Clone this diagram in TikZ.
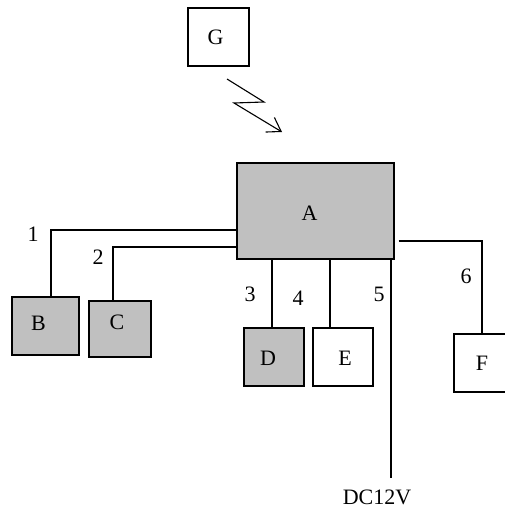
\documentclass[tikz,border=0pt]{standalone}
\usepackage{fontspec}
\setmainfont{Liberation Serif}
\usetikzlibrary{arrows.meta}
\definecolor{boxgray}{HTML}{C0C0C0}
\begin{document}
\begin{tikzpicture}[x=1pt,y=-1pt,line width=1.1pt,
  font=\fontsize{22}{26}\selectfont,
  box/.style={draw,rectangle,inner sep=0pt},
  gbox/.style={box,fill=boxgray},
  num/.style={inner sep=0pt}]
\useasboundingbox[fill=white] (0,0) rectangle (505,508);
% boxes
\node[box,minimum width=61pt,minimum height=58pt,label={[xshift=-3pt]center:G}] (G) at (218.5,37) {};
\node[gbox,minimum width=157pt,minimum height=96pt,label={[xshift=-6pt,yshift=-2pt]center:A}] (A) at (315.5,211) {};
\node[gbox,minimum width=67pt,minimum height=58pt,label={[xshift=-7pt,yshift=3pt]center:B}] (B) at (45.5,326) {};
\node[gbox,minimum width=62pt,minimum height=56pt,label={[xshift=-3pt,yshift=7pt]center:C}] (C) at (120,329) {};
\node[gbox,minimum width=60pt,minimum height=58pt,label={[xshift=-6pt,yshift=-1pt]center:D}] (D) at (274,357) {};
\node[box,minimum width=60pt,minimum height=58pt,label={[xshift=2pt,yshift=-1pt]center:E}] (E) at (343,357) {};
\node[box,minimum width=60pt,minimum height=58pt,label={[xshift=-2pt,yshift=0pt]center:F}] (F) at (484,363) {};
% number labels
\node[num] (n1) at (33,234) {1};
\node[num] (n2) at (98,257) {2};
\node[num] (n3) at (250,294) {3};
\node[num] (n4) at (298,298) {4};
\node[num] (n5) at (379,294) {5};
\node[num] (n6) at (466,276) {6};
\node[num] (dc) at (377,497) {DC12V};
\coordinate (dcend) at (391,478);
% connectors
\draw (A.west |- 0,230) -| (B.north -| 51,0);
\draw (A.west |- 0,247) -| (C.north -| 113,0);
\draw (A.south -| 272,0) -- (D.north -| 272,0);
\draw (A.south -| 330,0) -- (E.north -| 330,0);
\draw (A.south -| 391,0) -- (dcend);
\draw ([xshift=4pt]A.east |- 0,241) -| (F.north -| 482,0);
% wireless link
\coordinate (z1) at (227,79);
\coordinate (z2) at (264,102);
\coordinate (z3) at (234,103);
\coordinate (z4) at (282,132);
\draw[-{Straight Barb[length=13pt,width=17pt]}] (z1) -- (z2) -- (z3) -- (z4);
\end{tikzpicture}
\end{document}
